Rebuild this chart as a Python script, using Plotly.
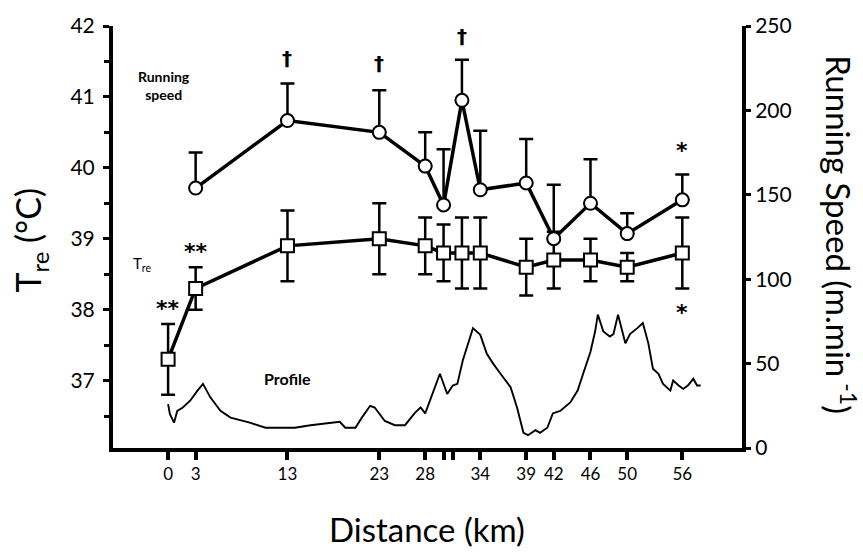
import plotly.graph_objects as go

# ---- data ----
distance_km = [0, 3, 13, 23, 28, 30, 32, 34, 39, 42, 46, 50, 56]
tre_c = [37.3, 38.3, 38.9, 39.0, 38.9, 38.8, 38.8, 38.8, 38.6, 38.7, 38.7, 38.6, 38.8]
tre_sd = [0.5, 0.3, 0.5, 0.5, 0.4, 0.4, 0.5, 0.5, 0.4, 0.4, 0.3, 0.2, 0.5]

speed_km = [3, 13, 23, 28, 30, 32, 34, 39, 42, 46, 50, 56]
speed_m_min = [154, 194, 187, 167, 144, 206, 153, 157, 124, 145, 127, 147]
speed_sd = [21, 22, 25, 20, 33, 24, 35, 26, 32, 26, 12, 15]

profile_km = [0, 0.2, 0.65, 1.0, 1.6, 2.4, 3.2, 3.8, 4.6, 5.7, 6.8, 8.9, 10.6, 12.2,
              13.8, 15.5, 17.6, 18.7, 19.3, 20.4, 21.1, 22.0, 22.5, 23.6, 24.7, 25.8,
              26.9, 27.5, 28.0, 28.8, 29.6, 30.4, 31.0, 31.5, 32.1, 33.2, 34.0, 34.7,
              35.4, 36.2, 37.3, 38.0, 38.7, 39.2, 40.0, 40.5, 41.3, 41.9, 42.7, 43.8,
              44.6, 45.2, 46.0, 46.5, 46.8, 47.4, 48.1, 48.5, 49.0, 49.8, 50.3, 51.1,
              51.7, 52.3, 52.8, 53.4, 53.9, 54.7, 55.0, 55.6, 56.1, 56.6, 57.2, 57.6, 58.0]
profile_val = [26, 20, 15, 22, 24, 28, 34, 38, 30, 22, 18, 15, 12, 12,
               12, 13.5, 15, 15.5, 12, 12, 18, 25, 24, 16, 13.5, 13.5,
               21, 24, 20.5, 32, 44, 32, 37, 38, 52, 71, 67, 56,
               50, 44, 36, 24, 9, 7.6, 10.6, 9, 12, 20.5, 22, 27,
               34, 44, 57, 69, 79, 69, 66, 67.5, 79, 62, 67.5, 71,
               74, 62, 47, 44, 38, 34, 40, 37, 35, 37, 41, 37, 37]

x_ticks = [0, 3, 13, 23, 28, 34, 39, 42, 46, 50, 56]
x_minor_ticks = [30, 31]

FONT = "Lato"
SYM = "DejaVu Sans"
fig = go.Figure()

fig.add_trace(go.Scatter(
    x=profile_km, y=profile_val, yaxis="y2", mode="lines",
    line=dict(color="black", width=1.9), showlegend=False, hoverinfo="skip"))

fig.add_trace(go.Scatter(
    x=distance_km, y=tre_c, mode="lines+markers",
    line=dict(color="black", width=3.5),
    marker=dict(symbol="square", size=13, color="white", line=dict(color="black", width=2)),
    error_y=dict(type="data", array=tre_sd, color="black", thickness=2.5, width=7),
    showlegend=False))

fig.add_trace(go.Scatter(
    x=speed_km, y=speed_m_min, yaxis="y2", mode="lines+markers",
    line=dict(color="black", width=3.5),
    marker=dict(symbol="circle", size=13, color="white", line=dict(color="black", width=2)),
    error_y=dict(type="data", symmetric=False, array=speed_sd,
                 arrayminus=[0] * len(speed_sd), color="black", thickness=2.5, width=7),
    showlegend=False))

fig.update_layout(
    width=863, height=552,
    margin=dict(l=113, r=121, t=23, b=104),
    paper_bgcolor="white", plot_bgcolor="white",
    font=dict(family=FONT, color="black"),
    xaxis=dict(range=[-6, 62.5], tickvals=x_ticks,
               minor=dict(tickvals=x_minor_ticks, ticks="outside", ticklen=8,
                          tickwidth=4, tickcolor="black"),
               showline=True, linecolor="black", linewidth=4,
               ticks="outside", ticklen=8, tickwidth=4, tickcolor="black",
               tickfont=dict(size=17, family=FONT),
               showgrid=False, zeroline=False),
    yaxis=dict(range=[36.05, 42], tickvals=[37, 38, 39, 40, 41, 42],
               showline=True, linecolor="black", linewidth=4,
               ticks="outside", ticklen=6, tickwidth=3, tickcolor="black",
               minor=dict(dtick=0.5, tick0=36.5, ticks="outside", ticklen=5,
                          tickwidth=3, tickcolor="black"),
               tickfont=dict(size=21, family=FONT), ticklabelstandoff=4,
               showgrid=False, zeroline=False),
    yaxis2=dict(range=[0, 250], overlaying="y", side="right",
                tickvals=[0, 50, 100, 150, 200, 250],
                showline=True, linecolor="black", linewidth=4,
                ticks="outside", ticklen=5, tickwidth=3, tickcolor="black",
                tickfont=dict(size=21, family=FONT),
                showgrid=False, zeroline=False),
)

ann = []
def t(x, y, text, size, yref="y2", xref="x", angle=0, family=FONT):
    ann.append(dict(x=x, y=y, xref=xref, yref=yref, text=text, showarrow=False,
                    xanchor="center", yanchor="middle", textangle=angle,
                    font=dict(size=size, family=family, color="black")))

# significance marks
t(13, 231, "<b>†</b>", 20, family=SYM)
t(23, 228, "<b>†</b>", 20, family=SYM)
t(32, 244, "<b>†</b>", 20, family=SYM)
t(56, 176, "<b>*</b>", 22, family=SYM)
t(56, 37.96, "<b>*</b>", 22, family=SYM, yref="y")
t(3, 38.82, "<b>**</b>", 22, family=SYM, yref="y")
t(0, 38.01, "<b>**</b>", 22, family=SYM, yref="y")

# inline labels
t(-0.5, 215, "<b>Running<br>speed</b>", 14)
t(-2.8, 38.65, "T<sub>re</sub>", 15, yref="y")
t(13, 41, "<b>Profile</b>", 16)

# axis titles
t(-0.132, 0.494, "T<sub>re</sub> (°C)", 34, xref="paper", yref="paper", angle=-90)
t(1.156, 0.506, "Running Speed (m.min<sup> -1</sup>)", 33, xref="paper", yref="paper", angle=90)
t(0.499, -0.193, "Distance (km)", 33, xref="paper", yref="paper")

fig.update_layout(annotations=ann)
fig.write_html("out.html", config={"displayModeBar": False},
               post_script="document.body.style.margin='0';")
